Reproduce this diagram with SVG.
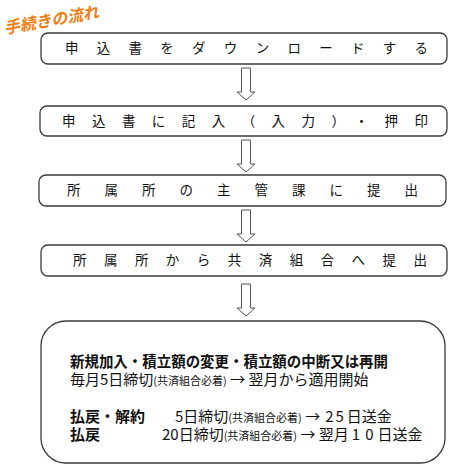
<svg xmlns="http://www.w3.org/2000/svg" width="450" height="465" viewBox="0 0 450 465">
<style>
.box{fill:#fff;stroke:#3a3a3a;stroke-width:1.3}
.arr{fill:#fff;stroke:#555;stroke-width:1}
.t{font-family:"Noto Sans CJK JP","Noto Sans CJK SC",sans-serif;font-size:13.5px;fill:#111}
.b{font-family:"Noto Sans CJK JP","Noto Sans CJK SC",sans-serif;font-size:15px;fill:#111}
.bold{font-weight:bold}
.s{font-size:11px}
.title{font-family:"Noto Sans CJK JP",sans-serif;font-size:16px;font-weight:bold;font-style:italic;fill:#f07d10}
</style>
<defs>
<polygon id="arrow" class="arr" points="-4.5,0 4.5,0 4.5,24 9,24 0,32 -9,24 -4.5,24"/>
</defs>
<text class="title" transform="translate(5,34) rotate(-10)">手続きの流れ</text>
<g id="node1">
<rect class="box" x="41" y="33" width="406" height="31" rx="7"/>
<text class="t" x="65" y="53" textLength="363" lengthAdjust="spacing">申込書をダウンロードする</text>
</g>
<g id="node2">
<rect class="box" x="40" y="106" width="407" height="30" rx="7"/>
<text class="t" x="62" y="126" textLength="366" lengthAdjust="spacing">申込書に記入（入力）・押印</text>
</g>
<g id="node3">
<rect class="box" x="39" y="175" width="407" height="31" rx="7"/>
<text class="t" x="67" y="195" textLength="351" lengthAdjust="spacing">所属所の主管課に提出</text>
</g>
<g id="node4">
<rect class="box" x="41" y="245" width="406" height="31" rx="7"/>
<text class="t" x="73" y="265" textLength="354" lengthAdjust="spacing">所属所から共済組合へ提出</text>
</g>
<g id="node5">
<rect class="box" x="41" y="321" width="404" height="142" rx="25"/>
<text class="b bold" x="70" y="367" textLength="318" lengthAdjust="spacingAndGlyphs">新規加入・積立額の変更・積立額の中断又は再開</text>
<text class="b" x="70" y="385">毎月5日締切<tspan class="s">(共済組合必着)</tspan> → 翌月から適用開始</text>
<text class="b bold" x="70" y="422">払戻・解約</text>
<text class="b" x="175" y="422">5日締切<tspan class="s">(共済組合必着)</tspan> →<tspan dx="5">2</tspan><tspan dx="2">5</tspan><tspan dx="3">日送金</tspan></text>
<text class="b bold" x="70" y="440">払戻</text>
<text class="b" x="162" y="440">20日締切<tspan class="s">(共済組合必着)</tspan> → 翌月<tspan dx="3">1</tspan><tspan dx="5">0</tspan><tspan dx="4">日送金</tspan></text>
</g>
<g id="connectors">
<use href="#arrow" x="246" y="68"/>
<use href="#arrow" x="246" y="140"/>
<use href="#arrow" x="246" y="210"/>
<use href="#arrow" x="246" y="284"/>
</g>
</svg>
